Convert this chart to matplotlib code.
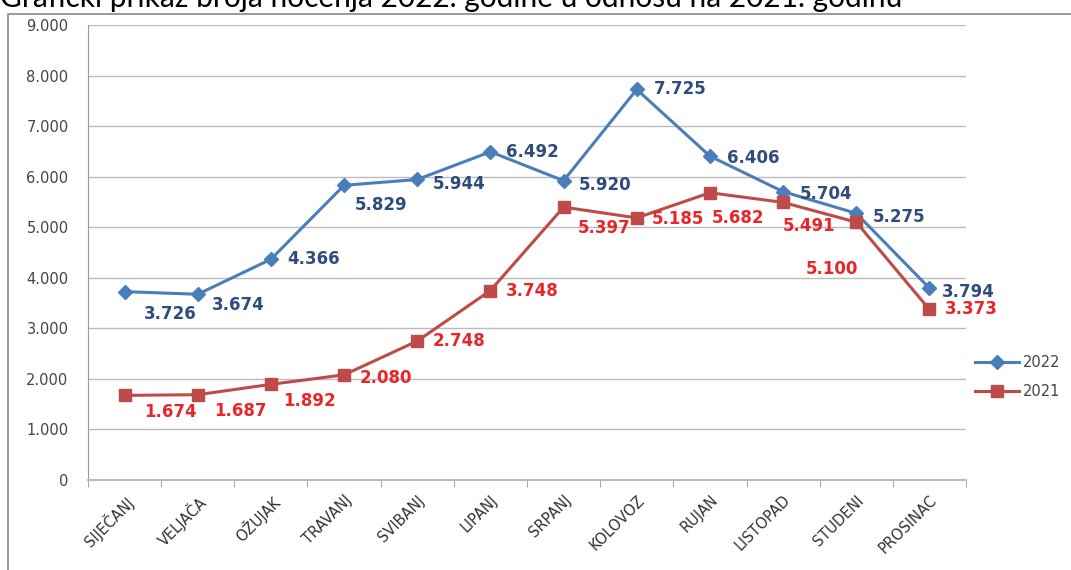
import numpy as np
import matplotlib
matplotlib.use("Agg")
from matplotlib import pyplot as plt
from matplotlib.patches import Rectangle

months = ["SIJEČANJ", "VELJAČA", "OŽUJAK", "TRAVANJ", "SVIBANJ", "LIPANJ",
          "SRPANJ", "KOLOVOZ", "RUJAN", "LISTOPAD", "STUDENI", "PROSINAC"]
nocenja_2022 = [3726, 3674, 4366, 5829, 5944, 6492, 5920, 7725, 6406, 5704, 5275, 3794]
nocenja_2021 = [1674, 1687, 1892, 2080, 2748, 3748, 5397, 5185, 5682, 5491, 5100, 3373]
y_ticks = [0, 1000, 2000, 3000, 4000, 5000, 6000, 7000, 8000, 9000]

def fmt(v):
    # hr format, dot as thousands sep
    return "{:,}".format(v).replace(",", ".")

# label offsets in points (layout only)
off_2022 = [(14, -16), (10, -8), (12, 0), (8, -14), (11, -3), (11, 0),
            (11, -3), (12, 0), (12, -1), (12, -2), (12, -3), (9, -3)]
off_2021 = [(14, -12), (12, -12), (9, -12), (11, -2), (11, 0), (11, 0),
            (10, -15), (11, -1), (1, -18), (0, -17), (-36, -34), (11, 0)]

blue = "#4A7EBB"
red = "#BE4B48"

fig = plt.figure(figsize=(10.71, 5.70), dpi=100)
ax = fig.add_axes([88 / 1071, 1 - 480 / 570, (966 - 88) / 1071, (480 - 25) / 570])

x = np.arange(len(months))
ax.plot(x, nocenja_2022, color=blue, lw=2.2, marker="D", ms=7, label="2022", zorder=3)
ax.plot(x, nocenja_2021, color=red, lw=2.2, marker="s", ms=8, label="2021", zorder=3)

for i in range(len(months)):
    ax.annotate(fmt(nocenja_2022[i]), (x[i], nocenja_2022[i]), xytext=off_2022[i],
                textcoords="offset points", ha="left", va="center",
                fontsize=12, fontweight="bold", color="#2F4C7C", zorder=4)
    ax.annotate(fmt(nocenja_2021[i]), (x[i], nocenja_2021[i]), xytext=off_2021[i],
                textcoords="offset points", ha="left", va="center",
                fontsize=12, fontweight="bold", color="#E8262A", zorder=4)

ax.set_xlim(-0.5, len(months) - 0.5)
ax.set_ylim(0, 9000)
ax.set_yticks(y_ticks)
ax.set_yticklabels([fmt(v) for v in y_ticks], fontsize=10.5, color="#444444")
ax.yaxis.grid(True, color="#BBBBBB", lw=1)
ax.set_axisbelow(True)

ax.set_xticks(x)
ax.set_xticklabels(months, rotation=45, ha="right", rotation_mode="anchor",
                   fontsize=10.5, color="#333333")
ax.set_xticks(np.arange(-0.5, len(months)), minor=True)
ax.tick_params(axis="x", which="major", length=0, pad=9)
ax.tick_params(axis="x", which="minor", length=5, color="#999999")
ax.tick_params(axis="y", length=0, pad=14)

for s in ["top", "right"]:
    ax.spines[s].set_visible(False)
ax.spines["left"].set_color("#999999")
ax.spines["bottom"].set_color("#BBBBBB")
ax.spines["bottom"].set_linewidth(1.5)

leg = fig.legend(loc="center left", bbox_to_anchor=(962 / 1071, 1 - 377 / 570),
                 frameon=False, fontsize=10.5, handlelength=3, labelspacing=1.0,
                 handletextpad=0.3)
for t in leg.get_texts():
    t.set_color("#444444")

# outer chart border
fig.patches.append(Rectangle((8 / 1071, -0.05), 1.1, 1 - 14 / 570 + 0.05,
                             transform=fig.transFigure, fill=False,
                             edgecolor="#888888", lw=1.2))

fig.text(0.0, 1 - 7 / 570, "Grafički prikaz broja noćenja 2022. godine u odnosu na 2021. godinu",
         fontsize=21.5, family="Lato", va="baseline", ha="left", color="black")

fig.savefig("out.png", dpi=100)
